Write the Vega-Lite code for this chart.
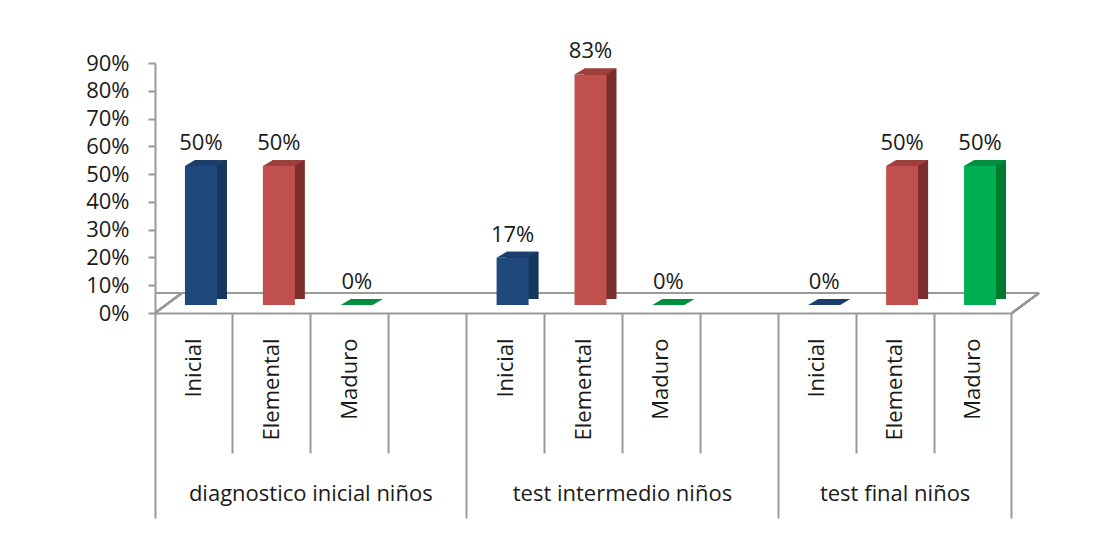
{
  "$schema": "https://vega.github.io/schema/vega-lite/v6.json",
  "width": 857,
  "height": 250,
  "autosize": {"type": "none"},
  "padding": {"left": 155, "top": 63, "right": 94, "bottom": 220},
  "background": "white",
  "config": {"view": {"stroke": null}, "font": "Open Sans"},
  "data": {
    "values": [
      {"grupo": "diagnostico inicial niños", "nivel": "Inicial", "valor": 0.50},
      {"grupo": "diagnostico inicial niños", "nivel": "Elemental", "valor": 0.50},
      {"grupo": "diagnostico inicial niños", "nivel": "Maduro", "valor": 0.00},
      {"grupo": "test intermedio niños", "nivel": "Inicial", "valor": 0.17},
      {"grupo": "test intermedio niños", "nivel": "Elemental", "valor": 0.83},
      {"grupo": "test intermedio niños", "nivel": "Maduro", "valor": 0.00},
      {"grupo": "test final niños", "nivel": "Inicial", "valor": 0.00},
      {"grupo": "test final niños", "nivel": "Elemental", "valor": 0.50},
      {"grupo": "test final niños", "nivel": "Maduro", "valor": 0.50}
    ]
  },
  "transform": [{"calculate": "datum.grupo + '|' + datum.nivel", "as": "clave"}],
  "resolve": {"scale": {"color": "independent"}, "axis": {"x": "independent"}},
  "layer": [
    {
      "mark": {"type": "rule", "color": "#999999", "strokeWidth": 2, "xOffset": 27, "x2Offset": 27, "yOffset": -20},
      "encoding": {"y": {"datum": 0, "type": "quantitative", "scale": {"domain": [0, 0.9]},
        "axis": {
            "title": null, "values": [0, 0.1, 0.2, 0.3, 0.4, 0.5, 0.6, 0.7, 0.8, 0.9], "tickCount": 10, "format": ".0%",
            "grid": false, "tickSize": 7, "tickColor": "#999999", "tickWidth": 2,
            "domainColor": "#999999", "domainWidth": 2, "labelOverlap": false, "labelBound": false, "labelFlush": false,
            "labelFontSize": 22, "labelColor": "#1a1a1a", "labelPadding": 19
          }}}
    },
    {
      "mark": {"type": "rule", "color": "#999999", "strokeWidth": 2, "x2Offset": 27, "y2Offset": -20},
      "encoding": {"x": {"value": 0}, "x2": {"value": 0}, "y": {"datum": 0, "type": "quantitative"}, "y2": {"datum": 0}}
    },
    {
      "mark": {"type": "rule", "color": "#999999", "strokeWidth": 2, "x2Offset": 27, "y2Offset": -20},
      "encoding": {"x": {"value": "width"}, "x2": {"value": "width"}, "y": {"datum": 0, "type": "quantitative"}, "y2": {"datum": 0}}
    },
    {
      "mark": {"type": "bar", "width": 32, "xOffset": 17, "yOffset": -14, "y2Offset": -14},
      "encoding": {
        "x": {
          "field": "clave", "type": "nominal",
          "scale": {"type": "band", "paddingInner": 0, "paddingOuter": 0, "domain": ["diagnostico inicial niños|Inicial", "diagnostico inicial niños|Elemental", "diagnostico inicial niños|Maduro", "diagnostico inicial niños|", "test intermedio niños|Inicial", "test intermedio niños|Elemental", "test intermedio niños|Maduro", "test intermedio niños|", "test final niños|Inicial", "test final niños|Elemental", "test final niños|Maduro"]},
          "axis": {
            "orient": "bottom", "title": null,
            "values": ["diagnostico inicial niños|Inicial", "diagnostico inicial niños|Elemental", "diagnostico inicial niños|Maduro", "test intermedio niños|Inicial", "test intermedio niños|Elemental", "test intermedio niños|Maduro", "test final niños|Inicial", "test final niños|Elemental", "test final niños|Maduro"],
            "labelExpr": "split(datum.value, '|')[1]",
            "ticks": false, "tickSize": 0, "domain": true, "domainColor": "#999999", "domainWidth": 2,
            "labelAngle": 270, "labelAlign": "right", "labelBaseline": "middle", "labelPadding": 25,
            "labelFontSize": 22, "labelColor": "#1a1a1a", "labelOverlap": false, "labelBound": false, "labelFlush": false, "labelLimit": 0
          }
        },
        "y": {"field": "valor", "type": "quantitative"},
        "color": {"field": "nivel", "type": "nominal", "legend": null, "scale": {"domain": ["Inicial", "Elemental", "Maduro"], "range": ["#17365D", "#7A2E2C", "#007A33"]}}
      }
    },
    {
      "mark": {"type": "bar", "width": 32, "xOffset": 7, "yOffset": -8, "y2Offset": -8},
      "encoding": {
        "x": {"field": "clave", "type": "nominal", "axis": null},
        "y": {"field": "valor", "type": "quantitative"},
        "color": {"field": "nivel", "type": "nominal", "legend": null, "scale": {"domain": ["Inicial", "Elemental", "Maduro"], "range": ["#1F497D", "#C0504D", "#00B050"]}}
      }
    },
    {
      "mark": {"type": "point", "filled": true, "opacity": 1, "size": 1764, "xOffset": 7, "yOffset": -8, "shape": "M -0.762 0 L 0.762 0 L 1.238 -0.286 L -0.286 -0.286 Z"},
      "encoding": {
        "x": {"field": "clave", "type": "nominal", "axis": null},
        "y": {"field": "valor", "type": "quantitative"},
        "color": {"field": "nivel", "type": "nominal", "legend": null, "scale": {"domain": ["Inicial", "Elemental", "Maduro"], "range": ["#1C3E6B", "#9E3F3C", "#008E3F"]}}
      }
    },
    {
      "mark": {"type": "text", "fontSize": 22, "color": "#1a1a1a", "dx": 7, "dy": -24, "baseline": "alphabetic"},
      "encoding": {
        "x": {"field": "clave", "type": "nominal", "axis": null},
        "y": {"field": "valor", "type": "quantitative"},
        "text": {"field": "valor", "type": "quantitative", "format": ".0%"}
      }
    },
    {
      "mark": {"type": "point", "opacity": 0},
      "encoding": {
        "x": {"field": "clave", "type": "nominal",
          "axis": {"orient": "bottom", "title": null, "bandPosition": 0, "values": ["diagnostico inicial niños|Elemental", "diagnostico inicial niños|Maduro", "diagnostico inicial niños|", "test intermedio niños|Elemental", "test intermedio niños|Maduro", "test intermedio niños|", "test final niños|Elemental", "test final niños|Maduro"],
            "labels": false, "domain": false, "ticks": true, "tickSize": 140, "tickColor": "#999999", "tickWidth": 2}}
      }
    },
    {
      "mark": {"type": "point", "opacity": 0},
      "encoding": {
        "x": {"field": "clave", "type": "nominal",
          "axis": {"orient": "bottom", "title": null, "bandPosition": 0, "values": ["diagnostico inicial niños|Inicial", "test intermedio niños|Inicial", "test final niños|Inicial"],
            "labels": false, "domain": false, "ticks": true, "tickSize": 205, "tickColor": "#999999", "tickWidth": 2}}
      }
    },
    {
      "mark": {"type": "point", "opacity": 0},
      "encoding": {
        "x": {"field": "clave", "type": "nominal",
          "axis": {"orient": "bottom", "title": null, "bandPosition": 1, "values": ["test final niños|Maduro"],
            "labels": false, "domain": false, "ticks": true, "tickSize": 205, "tickColor": "#999999", "tickWidth": 2}}
      }
    },
    {
      "mark": {"type": "point", "opacity": 0},
      "encoding": {
        "x": {"field": "clave", "type": "nominal",
          "axis": {"orient": "bottom", "title": null, "values": ["diagnostico inicial niños|Maduro", "test intermedio niños|Maduro"],
            "labelExpr": "split(datum.value, '|')[0]", "labelAngle": 0, "labelAlign": "center", "labelBaseline": "top", "labelOffset": -39,
            "labelFontSize": 22, "labelColor": "#1a1a1a", "labelPadding": 170, "labelOverlap": false, "labelBound": false, "labelFlush": false, "labelLimit": 0,
            "domain": false, "ticks": false, "tickSize": 0}}
      }
    },
    {
      "mark": {"type": "point", "opacity": 0},
      "encoding": {
        "x": {"field": "clave", "type": "nominal",
          "axis": {"orient": "bottom", "title": null, "values": ["test final niños|Elemental"],
            "labelExpr": "split(datum.value, '|')[0]", "labelAngle": 0, "labelAlign": "center", "labelBaseline": "top",
            "labelFontSize": 22, "labelColor": "#1a1a1a", "labelPadding": 170, "labelOverlap": false, "labelBound": false, "labelFlush": false, "labelLimit": 0,
            "domain": false, "ticks": false, "tickSize": 0}}
      }
    }
  ]
}
